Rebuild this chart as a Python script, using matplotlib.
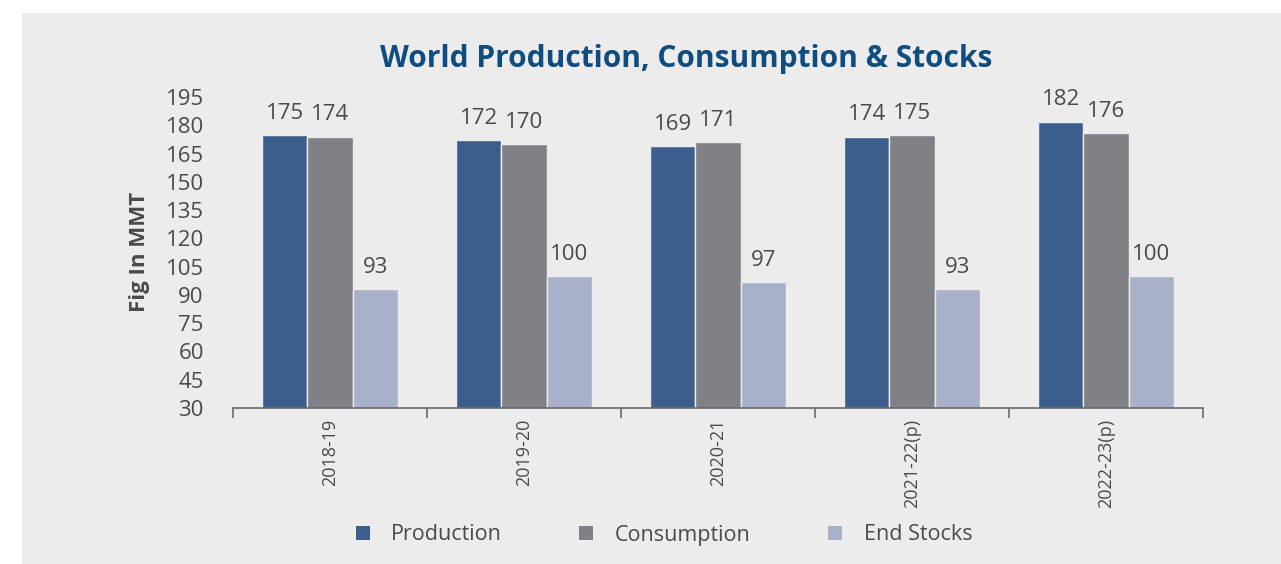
import matplotlib
matplotlib.use("Agg")
import matplotlib.pyplot as plt
import numpy as np
from matplotlib.patches import Rectangle, Patch

categories = ["2018-19", "2019-20", "2020-21", "2021-22(p)", "2022-23(p)"]
production = [175, 172, 169, 174, 182]
consumption = [174, 170, 171, 175, 176]
end_stocks = [93, 100, 97, 93, 100]
series_names = ["Production", "Consumption", "End Stocks"]
colors = ["#3b5e8c", "#808186", "#a9b0c9"]
yticks = list(range(30, 196, 15))

plt.rcParams['font.family'] = ['Open Sans', 'DejaVu Sans']

W, H = 1281, 564
fig = plt.figure(figsize=(W / 100, H / 100), dpi=100)
fig.patch.set_facecolor("white")
fig.patches.append(Rectangle((22 / W, 0), 1 - 22 / W, 1 - 13 / H, transform=fig.transFigure,
                             facecolor="#ececec", edgecolor="none", zorder=-10))

ax = fig.add_axes([233 / W, 1 - 408 / H, (1203 - 233) / W, (408 - 97) / H])
ax.set_facecolor("none")
ax.set_zorder(5)

x = np.arange(len(categories))
bw = 0.233
txt_col = "#4a4a4a"
for i, (vals, c) in enumerate(zip([production, consumption, end_stocks], colors)):
    pos = x + (i - 1) * bw
    bars = ax.bar(pos, vals, width=bw, color=c, edgecolor="#ececec", linewidth=1.0,
                  label=series_names[i], zorder=2)
    for b, v in zip(bars, vals):
        ax.annotate(f"{v}", (b.get_x() + b.get_width() / 2, v), xytext=(0, 8),
                    textcoords="offset points", ha="center", va="bottom",
                    fontsize=16, color=txt_col)

ax.set_ylim(30, 195)
ax.set_xlim(-0.5, len(categories) - 0.5)
ax.set_yticks(yticks)
ax.set_yticklabels([str(t) for t in yticks], fontsize=16, color=txt_col)
ax.tick_params(axis="y", length=0, pad=21)

ax.set_xticks(x)
ax.set_xticklabels(categories, rotation=90, fontsize=13, color=txt_col)
ax.tick_params(axis="x", length=0, pad=8)
ax.set_xticks(np.arange(-0.5, len(categories), 1.0), minor=True)
ax.tick_params(axis="x", which="minor", length=7, width=1.2, color="#6b6b6b", direction="out")

for s in ["left", "right", "top"]:
    ax.spines[s].set_visible(False)
ax.spines["bottom"].set_color("#6b6b6b")
ax.spines["bottom"].set_linewidth(1.2)

fig.text(140 / W, 1 - 252 / H, "Fig In MMT", rotation=90, ha="center", va="center",
         fontsize=16, fontweight="bold", color=txt_col)

fig.text(686 / W, 1 - 59 / H, "World Production, Consumption & Stocks", ha="center", va="center",
         fontsize=21.5, fontweight="bold", color="#0f4c7f")

handles = [Patch(facecolor=c, edgecolor="none") for c in colors]
leg = fig.legend(handles, series_names, loc="center", bbox_to_anchor=(664 / W, 1 - 535 / H),
                 ncol=3, frameon=False, fontsize=15.5, handlelength=0.65, handleheight=0.65,
                 columnspacing=3.6, handletextpad=1.0)
for t in leg.get_texts():
    t.set_color(txt_col)

fig.savefig("out.png", dpi=100, facecolor=fig.get_facecolor())
